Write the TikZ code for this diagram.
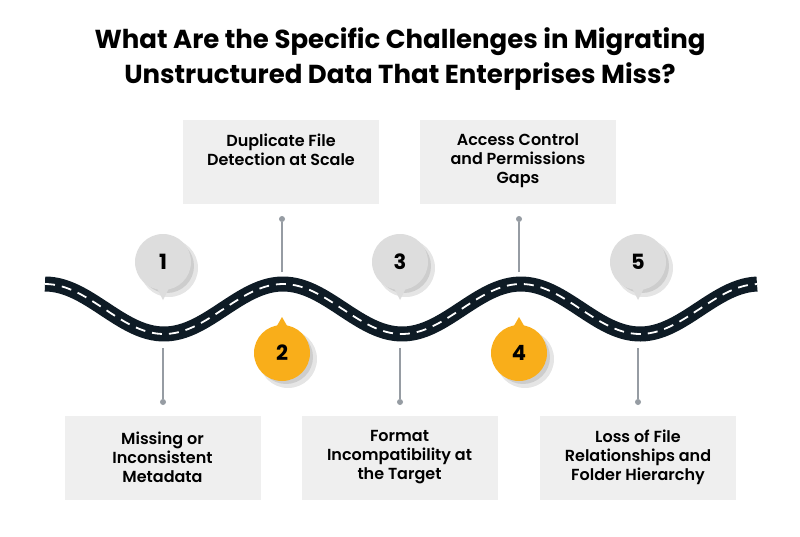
\documentclass[tikz,border=0pt]{standalone}
\usepackage{fontspec}
\setmainfont{Poppins}
\newfontfamily\medfont{Poppins SemiBold}
\usepackage{tikz}
\usetikzlibrary{calc}
\definecolor{roadcol}{RGB}{14,27,37}
\definecolor{pingray}{RGB}{221,221,221}
\definecolor{pinorange}{RGB}{249,174,26}
\definecolor{boxgray}{RGB}{239,239,239}
\definecolor{linegray}{RGB}{150,156,163}
\tikzset{
  road/.style={line width=15pt, color=roadcol},
  lane/.style={line width=1.8pt, white, dash pattern=on 10pt off 7pt},
  pinball/.style={circle, minimum size=56pt, inner sep=0pt,
    font=\fontsize{21}{24}\selectfont\bfseries},
  pinshade/.style={fill=black, opacity=0.1},
  infobox/.style={fill=boxgray, minimum width=196pt, minimum height=84pt,
    inner sep=0pt, align=center, font=\medfont\fontsize{16}{19}\selectfont},
  stemdot/.style={circle, fill=linegray, inner sep=0pt, minimum size=6pt},
  stem/.style={linegray, line width=1.2pt},
}

\begin{document}
\begin{tikzpicture}[x=1pt,y=-1pt]
\fill[white] (0,0) rectangle (800,536);
\useasboundingbox (0,0) rectangle (800,536);
\node[align=center, font=\fontsize{26}{35}\selectfont\bfseries] (title)
  at (400,59.5) {What Are the Specific Challenges in Migrating\\Unstructured Data That Enterprises Miss?};
% the road
\draw[road]
  plot[domain=45:757, samples=160] (\x, {309-25*cos((\x-45)/238*360)});
\draw[lane]
  plot[domain=45:757, samples=160] (\x, {309-25*cos((\x-45)/238*360)});
% stems
\node[stemdot] (d1) at (163,402) {};
\node[stemdot] (d2) at (282,219) {};
\node[stemdot] (d3) at (400,402) {};
\node[stemdot] (d4) at (519,219) {};
\node[stemdot] (d5) at (638,402) {};
\coordinate (r1) at (163,348);
\coordinate (r2) at (282,272);
\coordinate (r3) at (400,348);
\coordinate (r4) at (519,272);
\coordinate (r5) at (638,348);
\draw[stem] (r1) -- (d1);
\draw[stem] (r2) -- (d2);
\draw[stem] (r3) -- (d3);
\draw[stem] (r4) -- (d4);
\draw[stem] (r5) -- (d5);
% pin shadows
\fill[pinshade] (169,268) circle[radius=29pt];
\fill[pinshade] (167,266) circle[radius=27pt];
\fill[pinshade] (288,359) circle[radius=29pt];
\fill[pinshade] (286,357) circle[radius=27pt];
\fill[pinshade] (406,268) circle[radius=29pt];
\fill[pinshade] (404,266) circle[radius=27pt];
\fill[pinshade] (525,359) circle[radius=29pt];
\fill[pinshade] (523,357) circle[radius=27pt];
\fill[pinshade] (644,268) circle[radius=29pt];
\fill[pinshade] (642,266) circle[radius=27pt];
% pins
\node[pinball, fill=pingray] (p1) at (163,262) {1};
\node[pinball, fill=pinorange] (p2) at (282,353) {2};
\node[pinball, fill=pingray] (p3) at (400,262) {3};
\node[pinball, fill=pinorange] (p4) at (519,353) {4};
\node[pinball, fill=pingray] (p5) at (638,262) {5};
\fill[pingray] ($(p1)+(-8,22)$) -- ($(p1)+(0,38)$) -- ($(p1)+(8,22)$) -- cycle;
\fill[pinorange] ($(p2)+(-8,-22)$) -- ($(p2)+(0,-36)$) -- ($(p2)+(8,-22)$) -- cycle;
\fill[pingray] ($(p3)+(-8,22)$) -- ($(p3)+(0,38)$) -- ($(p3)+(8,22)$) -- cycle;
\fill[pinorange] ($(p4)+(-8,-22)$) -- ($(p4)+(0,-36)$) -- ($(p4)+(8,-22)$) -- cycle;
\fill[pingray] ($(p5)+(-8,22)$) -- ($(p5)+(0,38)$) -- ($(p5)+(8,22)$) -- cycle;
% boxes
\node[infobox] (b1) at (162.5,457.5) {Missing or\\Inconsistent\\Metadata};
\node[infobox] (b2) at (281,162)
  {\parbox[c][56pt][t]{190pt}{\centering Duplicate File\\Detection at Scale}};
\node[infobox] (b3) at (399.5,457.5) {Format\\Incompatibility at\\the Target};
\node[infobox] (b4) at (518,162)
  {\parbox[c][56pt][t]{190pt}{\centering Access Control\\and Permissions\\Gaps}};
\node[infobox] (b5) at (638,457.5) {Loss of File\\Relationships and\\Folder Hierarchy};
\end{tikzpicture}
\end{document}
